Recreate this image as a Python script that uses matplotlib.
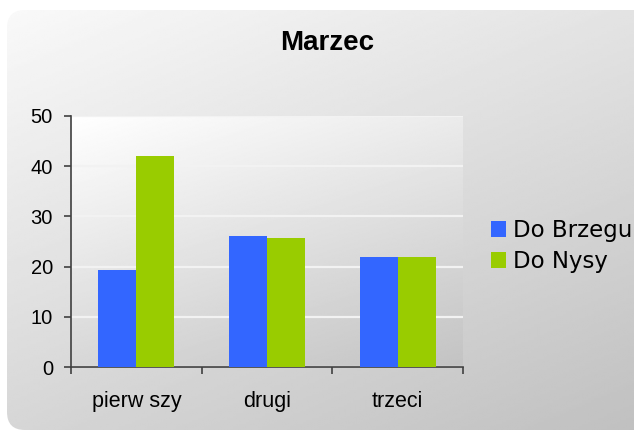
import numpy as np
from matplotlib import pyplot as plt
from matplotlib.patches import FancyBboxPatch

# dane z wykresu
kategorie = ["pierw szy", "drugi", "trzeci"]
do_brzegu = [19.3, 26.1, 21.9]
do_nysy = [42.0, 25.7, 21.9]
serie = ["Do Brzegu", "Do Nysy"]
kolory = ["#3366FF", "#99CC00"]

W, H = 634, 434
fig = plt.figure(figsize=(W / 100, H / 100), dpi=100, facecolor="white")

# tlo z zaokraglonymi rogami i gradientem
bg = fig.add_axes([0, 0, 1, 1])
bg.set_xlim(0, W)
bg.set_ylim(H, 0)
bg.axis("off")
gx, gy = np.meshgrid(np.linspace(0, 1, 200), np.linspace(0, 1, 200))
grad = (250 - 22 * gx - 36 * gy) / 255.0
img = bg.imshow(grad, cmap="gray", vmin=0, vmax=1, extent=(0, W, H, 0),
                aspect="auto", interpolation="bilinear")
ramka = FancyBboxPatch((7, 10), 660, 420, boxstyle="round,pad=0,rounding_size=18",
                       transform=bg.transData, facecolor="none", edgecolor="none")
bg.add_patch(ramka)
img.set_clip_path(ramka)

# wykres
ax = fig.add_axes([71 / W, 1 - 367.3 / H, (463 - 71) / W, (367.3 - 115.7) / H])
pgrad = (255 - 20 * gx - 40 * gy) / 255.0
ax.imshow(pgrad, cmap="gray", vmin=0, vmax=1, extent=(0, 1, 0, 1),
          transform=ax.transAxes, aspect="auto", interpolation="bilinear", zorder=0)

x = np.arange(len(kategorie))
w = 0.29
ax.bar(x - w / 2, do_brzegu, w, color=kolory[0], label=serie[0], zorder=3)
ax.bar(x + w / 2, do_nysy, w, color=kolory[1], label=serie[1], zorder=3)

ax.set_xlim(-0.5, len(kategorie) - 0.5)
ax.set_ylim(0, 50)
ax.set_yticks(range(0, 51, 10))
ax.yaxis.grid(True, color="#f2f2f2", linewidth=1.6, zorder=1)
ax.set_axisbelow(True)

ax.set_xticks(np.arange(-0.5, len(kategorie), 1.0))
ax.set_xticklabels([])
ax.set_xticks(x, minor=True)
ax.set_xticklabels(kategorie, minor=True, fontsize=15.5, family="Liberation Sans")
ax.tick_params(axis="x", which="minor", length=0, pad=17)
ax.tick_params(axis="x", which="major", length=5, width=1.2, color="#404040")
ax.tick_params(axis="y", length=5, width=1.2, color="#404040", pad=8)
for lab in ax.get_yticklabels():
    lab.set_fontsize(14.5)
    lab.set_family("Liberation Sans")

for s in ["top", "right"]:
    ax.spines[s].set_visible(False)
for s in ["left", "bottom"]:
    ax.spines[s].set_color("#404040")
    ax.spines[s].set_linewidth(1.2)

fig.text(327 / W, 1 - 43 / H, "Marzec", ha="center", va="center",
         fontsize=20, fontweight="bold", family="Liberation Sans")

fig.legend(loc="upper left", bbox_to_anchor=(491 / W, 1 - 219 / H), frameon=False,
           prop={"family": "DejaVu Sans", "size": 16.5}, handlelength=0.65,
           handleheight=0.65, handletextpad=0.3, labelspacing=0.35,
           borderaxespad=0, borderpad=0)

fig.savefig("out.png", dpi=100)
